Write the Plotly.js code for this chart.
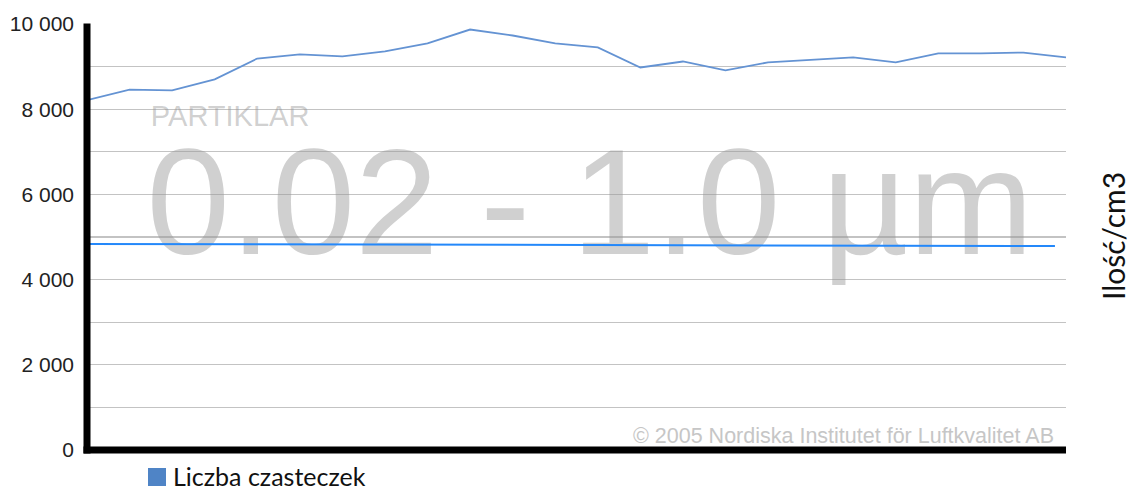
<!DOCTYPE html>
<html>
<head>
<meta charset="utf-8">
<script src="https://cdn.plot.ly/plotly-3.0.1.min.js"></script>
<style>html,body{margin:0;padding:0;background:#fff;}#chart{width:1132px;height:488px;}</style>
</head>
<body>
<div id="chart"></div>
<script>
// Data
const pointIndex = [0,1,2,3,4,5,6,7,8,9,10,11,12,13,14,15,16,17,18,19,20,21,22,23];
const particleCount = [8210,8460,8440,8700,9190,9285,9240,9355,9545,9870,9730,9545,9450,8980,9120,8910,9100,9155,9215,9100,9310,9310,9330,9215];
const refIndex = [0,1,2,3,4,5,6,7,8,9,10,11,12,13,14,15,16,17,18,19,20,21,22,22.74];
const refValues = [4838,4836,4830,4830,4828,4826,4824,4822,4820,4818,4816,4815,4812,4810,4808,4805,4803,4800,4800,4798,4796,4794,4792,4788];
const yTickVals = [0,2000,4000,6000,8000,10000];
const seriesName = 'Liczba czasteczek';
const yTitle = 'Ilość/cm3';
const watermarkSmall = 'PARTIKLAR';
const watermarkBig = '0.02 - 1.0 µm';
const copyright = '© 2005 Nordiska Institutet för Luftkvalitet AB';

const baseFont = 'Liberation Sans, Arial, sans-serif';
const labelFont = 'Lato, Open Sans, sans-serif';
const seriesColor = '#6493d3';
const legendColor = '#4f84c6';

const traces = [
  {
    x: [1.50, 1.40],
    y: [7441, 3732],
    mode: 'text',
    text: [watermarkSmall, watermarkBig],
    textposition: 'top right',
    textfont: {family: baseFont, size: [29, 150], color: 'rgba(150,150,150,0.45)'},
    hoverinfo: 'skip',
    showlegend: false,
    cliponaxis: false
  },
  {
    x: refIndex, y: refValues, mode: 'lines',
    line: {color: '#2488fa', width: 2},
    showlegend: false, hoverinfo: 'skip'
  },
  {
    x: pointIndex, y: particleCount, mode: 'lines', name: seriesName,
    line: {color: seriesColor, width: 1.8},
    showlegend: false
  }
];

const layout = {
  width: 1132, height: 488, autosize: false,
  margin: {l: 87, r: 66, t: 24, b: 38, pad: 0},
  paper_bgcolor: '#ffffff', plot_bgcolor: '#ffffff',
  separators: '. ',
  font: {family: baseFont, color: '#222'},
  showlegend: false,
  xaxis: {range: [0, 23], showgrid: false, zeroline: false, showline: false, showticklabels: false, ticks: '', fixedrange: true},
  yaxis: {
    range: [0, 10000], tickvals: yTickVals, tickformat: ',d',
    showgrid: true, gridcolor: '#c3c3c3', gridwidth: 1.3,
    minor: {dtick: 1000, showgrid: true, gridcolor: '#c3c3c3', gridwidth: 1.3, ticks: ''},
    zeroline: false, showline: false, ticks: '', ticklabelstandoff: 12,
    tickfont: {family: baseFont, size: 21, color: '#222'}, fixedrange: true
  },
  shapes: [
    {type: 'line', xref: 'paper', yref: 'paper', x0: 0, x1: 0, y0: -0.0082, y1: 1.001, line: {color: '#000', width: 7}, layer: 'above'},
    {type: 'line', xref: 'paper', yref: 'paper', x0: -0.0036, x1: 1, y0: 0, y1: 0, line: {color: '#000', width: 7}, layer: 'above'},
    // legend swatch
    {type: 'rect', xref: 'paper', yref: 'paper', x0: (148-87)/979, x1: (166-87)/979, y0: -36/426, y1: -18/426, fillcolor: legendColor, line: {width: 0}}
  ],
  annotations: [
    {text: seriesName, xref: 'paper', yref: 'paper', x: (171-87)/979, y: -26/426, xanchor: 'left', yanchor: 'middle', showarrow: false, font: {family: labelFont, size: 25, color: '#111'}},
    {text: yTitle, xref: 'paper', yref: 'paper', x: (1113-87)/979, y: (450-236)/426, xanchor: 'center', yanchor: 'middle', textangle: -90, showarrow: false, font: {family: labelFont, size: 30, color: '#111'}},
    {text: copyright, xref: 'paper', yref: 'paper', x: (1056-87)/979, y: 0.0, xanchor: 'right', yanchor: 'bottom', showarrow: false, font: {family: baseFont, size: 21.5, color: '#c6c6c6'}}
  ]
};

Plotly.newPlot('chart', traces, layout, {displayModeBar: false, staticPlot: true});
</script>
</body>
</html>
